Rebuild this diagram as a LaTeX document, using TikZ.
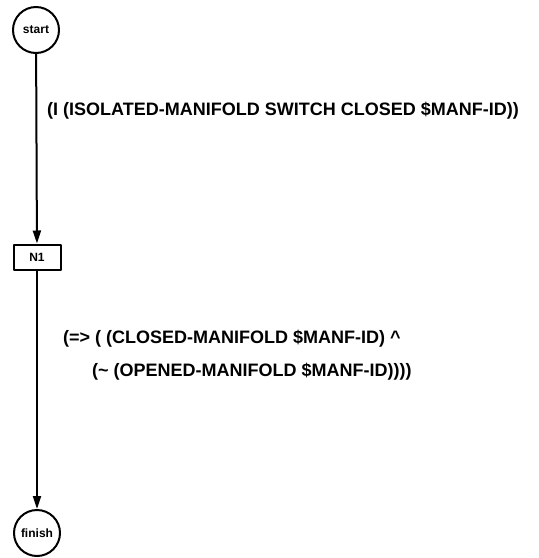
\documentclass[tikz,border=0pt]{standalone}
\usepackage{fontspec}
\setmainfont{Liberation Sans}
\usetikzlibrary{arrows.meta}

\begin{document}
\begin{tikzpicture}[x=1pt, y=-1pt, line cap=round, line join=round, >={Triangle[length=13pt,width=8pt]}]
  \useasboundingbox (0,0) rectangle (539,558);
  \tikzset{
    endnode/.style={draw, line width=2pt, circle, minimum size=46pt, inner sep=0pt, font=\bfseries\fontsize{12}{14}\selectfont},
    boxnode/.style={draw, line width=2pt, minimum width=47pt, minimum height=25pt, inner sep=0pt, font=\bfseries\fontsize{12}{14}\selectfont},
    cond/.style={anchor=west, inner sep=0pt, font=\bfseries\fontsize{18}{22}\selectfont}
  }
  % Start, the node N1 and finish on one vertical line
  \node[endnode] (start) at (36,30) {start};
  \node[boxnode] (n1) at (37,257) {N1};
  \node[endnode] (finish) at (37,533) {finish};

  % Edges
  \draw[->, line width=2pt] (start) -- (n1);
  \draw[->, line width=2pt] (n1) -- (finish);

  % Edge conditions
  \node[cond] (c1) at (47,111) {(I (ISOLATED-MANIFOLD SWITCH CLOSED \$MANF-ID))};
  \node[cond] (c2a) at (63,339) {(=> ( (CLOSED-MANIFOLD \$MANF-ID) \^{}};
  \node[cond] (c2b) at (92,372) {(\char`~{} (OPENED-MANIFOLD \$MANF-ID))))};
\end{tikzpicture}
\end{document}
